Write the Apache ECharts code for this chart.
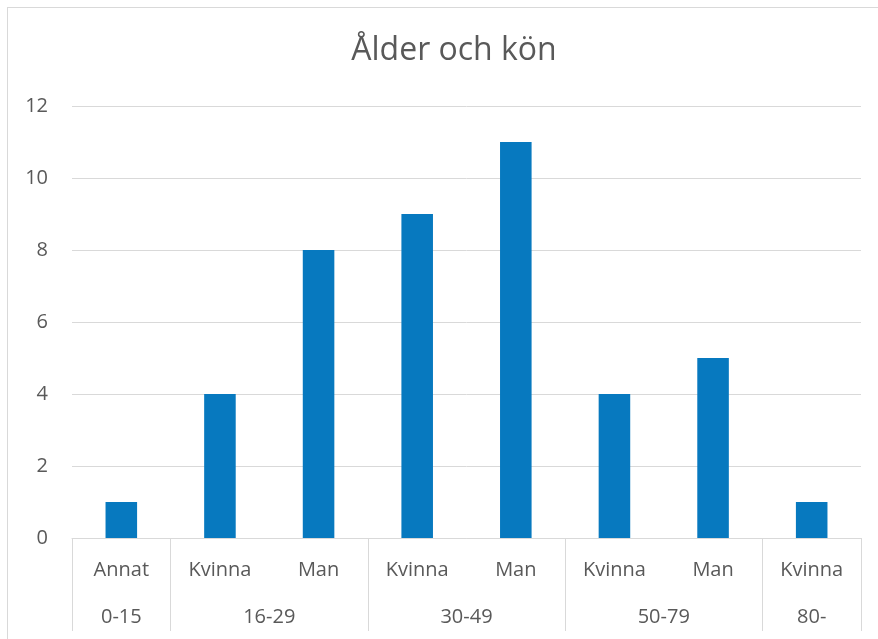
<!DOCTYPE html>
<html>
<head>
<meta charset="utf-8">
<script src="https://cdn.jsdelivr.net/npm/echarts@6/dist/echarts.min.js"></script>
<style>
html,body{margin:0;padding:0;background:#fff;}
#frame{position:absolute;left:7px;top:7px;width:900px;height:700px;border-left:1px solid #D9D9D9;border-top:1px solid #D9D9D9;box-sizing:border-box;}
#chart{position:absolute;left:0;top:0;width:878px;height:639px;}
</style>
</head>
<body>
<div id="frame"></div>
<div id="chart"></div>
<script>
var titleText = 'Ålder och kön';
var subLabels = ['Annat', 'Kvinna', 'Man', 'Kvinna', 'Man', 'Kvinna', 'Man', 'Kvinna'];
var groupLabels = ['0-15', '16-29', '30-49', '50-79', '80-'];
var groupSizes = [1, 2, 2, 2, 1];
var values = [1, 4, 8, 9, 11, 4, 5, 1];
var yTicks = [0, 2, 4, 6, 8, 10, 12];

// Build a half-slot axis for the group level: 2 points per category, boundaryGap false
var halfCats = [];
var boundaries = [0];
var pos = 0;
for (var g = 0; g < groupSizes.length; g++) { pos += groupSizes[g] * 2; boundaries.push(pos); }
for (var i = 0; i <= pos; i++) halfCats.push('');
for (var g2 = 0; g2 < groupLabels.length; g2++) {
  halfCats[(boundaries[g2] + boundaries[g2 + 1]) / 2] = groupLabels[g2];
}

var FONT = 'Open Sans';
var TXT = '#595959';
var LINE = '#D9D9D9';
var chart = echarts.init(document.getElementById('chart'));
chart.setOption({
  animation: false,
  textStyle: { fontFamily: FONT },
  title: {
    text: titleText, left: 449, textAlign: 'center', top: 30,
    textStyle: { fontFamily: FONT, fontSize: 32, fontWeight: 'normal', color: TXT }
  },
  grid: { left: 72, right: 17, top: 106, bottom: 101, containLabel: false },
  xAxis: [
    {
      type: 'category', data: subLabels, position: 'bottom',
      axisLine: { lineStyle: { color: LINE, width: 1 } },
      axisTick: { show: false },
      axisLabel: { color: TXT, fontSize: 20, fontFamily: FONT, margin: 22, interval: 0 }
    },
    {
      type: 'category', data: halfCats, position: 'bottom', boundaryGap: false,
      axisLine: { show: false },
      axisTick: {
        show: true, length: 93, lineStyle: { color: LINE, width: 1 },
        interval: function (index) { return boundaries.indexOf(index) >= 0; }
      },
      axisLabel: { color: TXT, fontSize: 20, fontFamily: FONT, margin: 69, interval: 0, showMinLabel: true, showMaxLabel: true }
    }
  ],
  yAxis: {
    type: 'value', min: yTicks[0], max: yTicks[yTicks.length - 1], interval: yTicks[1] - yTicks[0],
    axisLine: { show: false }, axisTick: { show: false },
    axisLabel: { color: TXT, fontSize: 20, fontFamily: FONT, margin: 24 },
    splitLine: { lineStyle: { color: LINE, width: 1 } }
  },
  series: [{
    type: 'bar', xAxisIndex: 0, data: values, barWidth: '32%',
    itemStyle: { color: '#0779BF' }
  }]
});
</script>
</body>
</html>
